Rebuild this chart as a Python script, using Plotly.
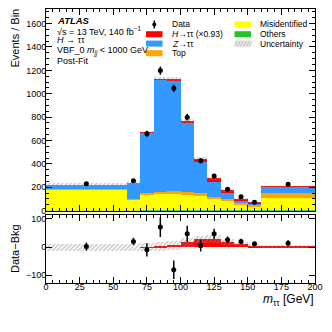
import numpy as np
import plotly.graph_objects as go

# binning (GeV)
edges = [0, 60, 70, 80, 90, 100, 110, 120, 130, 140, 150, 160, 200]
centers = [30, 65, 75, 85, 95, 105, 115, 125, 135, 145, 155, 180]

# post-fit stack components (events / bin)
others = [1, 1, 8, 8, 8, 8, 8, 8, 8, 7, 6, 8]
misid = [180, 95, 128, 132, 138, 128, 120, 95, 75, 45, 33, 100]
top = [4, 4, 18, 20, 22, 20, 25, 15, 13, 10, 8, 45]
ztautau = [37, 138, 513, 962, 949, 591, 264, 128, 59, 28, 18, 53]
higgs = [0, 0, 1, 3, 8, 18, 28, 30, 18, 11, 5, 2]
unc = [12, 12, 14, 16, 16, 16, 14, 14, 10, 8, 5, 6]

data = [230, 255, 658, 1198, 1047, 800, 427, 297, 184, 118, 73, 227]
data_err = [15, 16, 26, 35, 32, 28, 21, 17, 14, 11, 9, 15]

# lower panel: data - background
resid = [2, 20, -10, 71, -81, 47, 5, 47, 26, 20, 12, 14]
resid_err = [14, 13, 24, 35, 33, 29, 21, 18, 12, 10, 6, 10]

widths = np.diff(edges)
comps = [
    ("Others", others, "#22c322"),
    ("Misidentified", misid, "#ffff00"),
    ("Top", top, "#ffa500"),
    ("Z", ztautau, "#3399ff"),
    ("H", higgs, "#ff0000"),
]

fig = go.Figure()
base = np.zeros(len(centers))
for name, vals, col in comps:
    fig.add_trace(go.Bar(x=centers, y=vals, base=base.copy(), width=widths,
                         marker=dict(color=col, line=dict(width=0)),
                         xaxis="x2", yaxis="y2", showlegend=False))
    base += np.array(vals)

hatch = dict(color="rgba(0,0,0,0)", line=dict(width=0),
             pattern=dict(shape="/", fgcolor="#8c8c8c", bgcolor="rgba(0,0,0,0)",
                          size=3, solidity=0.45))
u = np.array(unc)
fig.add_trace(go.Bar(x=centers, y=2 * u, base=base - u, width=widths, marker=hatch,
                     xaxis="x2", yaxis="y2", showlegend=False))

fig.add_trace(go.Scatter(x=centers, y=data, mode="markers",
                         marker=dict(color="black", size=5),
                         error_y=dict(type="data", array=data_err, color="black",
                                      thickness=1.5, width=0),
                         xaxis="x2", yaxis="y2", showlegend=False))

# lower panel
fig.add_trace(go.Bar(x=centers, y=higgs, base=[0] * len(centers), width=widths,
                     marker=dict(color="#ff0000", line=dict(width=0)),
                     xaxis="x", yaxis="y", showlegend=False))
h = np.array(higgs)
fig.add_trace(go.Bar(x=centers, y=2 * u, base=h - u, width=widths, marker=hatch,
                     xaxis="x", yaxis="y", showlegend=False))
fig.add_trace(go.Scatter(x=centers, y=resid, mode="markers",
                         marker=dict(color="black", size=5),
                         error_y=dict(type="data", array=resid_err, color="black",
                                      thickness=1.5, width=0),
                         xaxis="x", yaxis="y", showlegend=False))

FONT = "Liberation Sans, Arial, sans-serif"
L, R, T, B = 46, 17, 9, 49
W, H = 332, 332
PW, PH = W - L - R, H - T - B


def px(x):
    return (x - L) / PW


def py(y):
    return (H - B - y) / PH


ax_common = dict(showline=True, linecolor="black", linewidth=1, mirror="ticks",
                 ticks="inside", tickcolor="black", showgrid=False, zeroline=False,
                 tickfont=dict(size=9, family=FONT, color="black"))

fig.update_layout(
    width=W, height=H,
    margin=dict(l=L, r=R, t=T, b=B),
    paper_bgcolor="white", plot_bgcolor="white",
    barmode="overlay", bargap=0,
    font=dict(family=FONT, color="black"),
    xaxis=dict(domain=[0, 1], anchor="y", range=[0, 200], dtick=25, ticklen=6,
               ticklabelstandoff=-5,
               minor=dict(dtick=5, ticks="inside", ticklen=3, tickcolor="black"),
               **ax_common),
    yaxis=dict(domain=[0, 0.249], anchor="x", range=[-128, 115],
               tickvals=[-100, 0, 100], ticktext=["\u2212100", "0", "100"],
               ticklen=6, ticklabelstandoff=-3, **ax_common),
    xaxis2=dict(domain=[0, 1], anchor="y2", matches="x", range=[0, 200], dtick=25,
                ticklen=6, showticklabels=False,
                minor=dict(dtick=5, ticks="inside", ticklen=3, tickcolor="black"),
                **ax_common),
    yaxis2=dict(domain=[0.264, 1], anchor="x2", range=[0, 1725], dtick=200,
                ticklen=6, ticklabelstandoff=-3,
                minor=dict(dtick=50, ticks="inside", ticklen=3, tickcolor="black"),
                **ax_common),
)

ann = []


def text(x, y, s, size=9, xanchor="left", angle=0, yanchor="middle"):
    ann.append(dict(x=px(x), y=py(y), xref="paper", yref="paper", text=s,
                    showarrow=False, xanchor=xanchor, yanchor=yanchor,
                    textangle=angle, font=dict(size=size, family=FONT, color="black")))


text(55, 20, "<b><i>ATLAS</i></b>", 9.5)
text(55, 30.5, "\u221as = 13 TeV, 140 fb<sup>\u22121</sup>", 9)
text(55, 40, "<i>H</i> \u2192 \u03c4\u03c4", 9)
text(55, 50.8, "VBF_0 <i>m<sub>jj</sub></i> < 1000 GeV", 9)
text(55, 61, "Post-Fit", 9)

# legend
shapes = []
col1 = [("Data", None), ("<i>H</i>\u2192\u03c4\u03c4 (\u00d70.93)", "#ff0000"),
        ("<i>Z</i>\u2192\u03c4\u03c4", "#3399ff"), ("Top", "#ffa500")]
col2 = [("Misidentified", "#ffff00"), ("Others", "#22c322"), ("Uncertainty", "hatch")]
rows = [24.5, 34.2, 43.6, 53.2]
for (label, col), yy in zip(col1, rows):
    text(170, yy, label, 8.5)
    if col is None:
        shapes.append(dict(type="line", xref="paper", yref="paper",
                           x0=px(154.3), x1=px(154.3), y0=py(yy - 4), y1=py(yy + 4),
                           line=dict(color="black", width=1.5)))
        shapes.append(dict(type="circle", xref="paper", yref="paper",
                           x0=px(152.3), x1=px(156.3), y0=py(yy - 2), y1=py(yy + 2),
                           fillcolor="black", line=dict(color="black", width=0)))
    else:
        shapes.append(dict(type="rect", xref="paper", yref="paper",
                           x0=px(146), x1=px(162.5), y0=py(yy - 3), y1=py(yy + 3),
                           fillcolor=col, line=dict(width=0)))
for (label, col), yy in zip(col2, rows):
    text(257.5, yy, label, 8.5)
    if col == "hatch":
        shapes.append(dict(type="rect", xref="paper", yref="paper",
                           x0=px(234.5), x1=px(251), y0=py(yy - 3), y1=py(yy + 3),
                           fillcolor="#e4e4e4", line=dict(width=0)))
        for k in range(6):
            x0 = 234.5 + k * 3
            shapes.append(dict(type="line", xref="paper", yref="paper",
                               x0=px(x0), x1=px(x0 + 3), y0=py(yy + 3), y1=py(yy - 3),
                               line=dict(color="#aaaaaa", width=0.6)))
    else:
        shapes.append(dict(type="rect", xref="paper", yref="paper",
                           x0=px(234.5), x1=px(251), y0=py(yy - 3), y1=py(yy + 3),
                           fillcolor=col, line=dict(width=0)))

# axis titles
text(15, 7, "Events / Bin", 11, xanchor="center", angle=-90, yanchor="top")
text(15, 249, "Data\u2212Bkg", 11, xanchor="center", angle=-90)
text(316, 300, "<i>m</i><sub>\u03c4\u03c4</sub> [GeV]", 12, xanchor="right")

fig.update_layout(annotations=ann, shapes=shapes)
fig.write_html("out.html", config={"displayModeBar": False},
               post_script="document.body.style.margin='0';")
